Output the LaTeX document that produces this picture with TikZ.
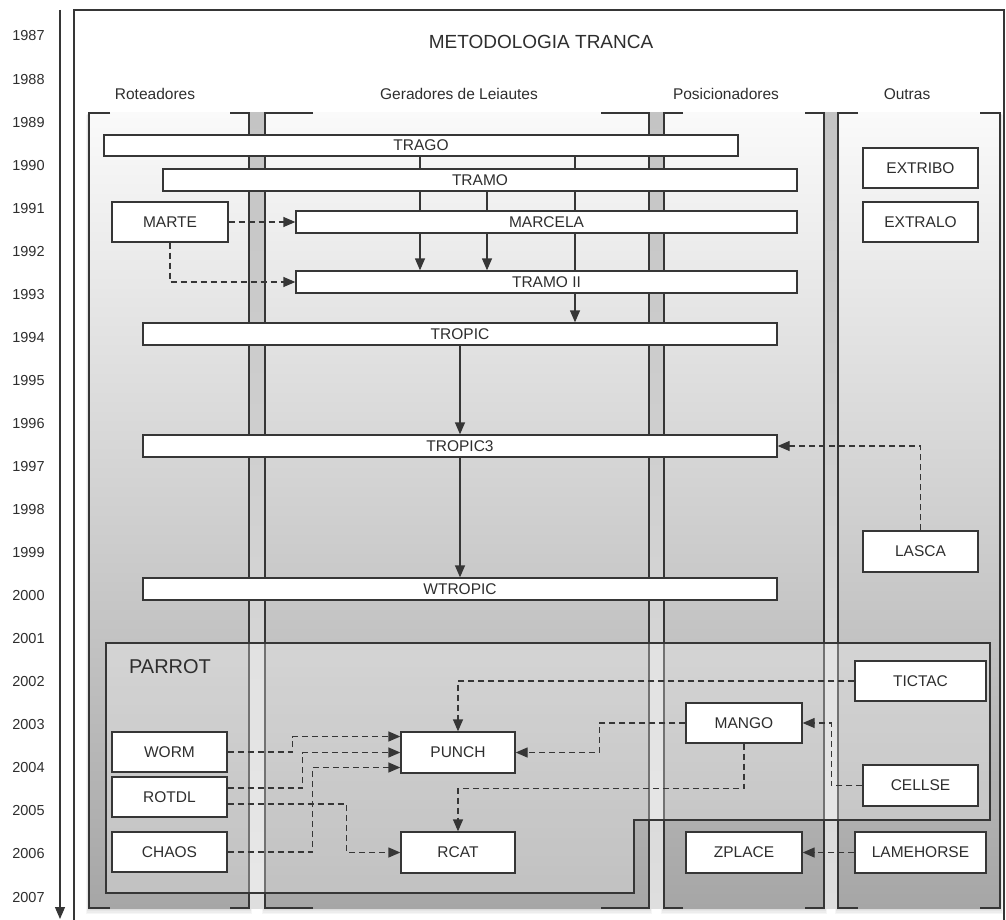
\documentclass[tikz,border=0pt]{standalone}
\usepackage{fontspec}
\setmainfont{Liberation Sans}
\usetikzlibrary{arrows.meta,shadows,calc}
\pgfdeclarelayer{back}
\pgfdeclarelayer{edges}
\pgfsetlayers{back,edges,main}

\definecolor{ink}{HTML}{363636}
\definecolor{textcol}{HTML}{2E2E2E}
\definecolor{paneltop}{HTML}{FAFAFA}
\definecolor{panelbot}{HTML}{A6A6A6}
\definecolor{gaptop}{HTML}{C4C4C4}
\definecolor{gapbot}{HTML}{DEDEDE}

\tikzset{
  box/.style={draw=ink, line width=1.3pt, fill=white, inner sep=0pt,
    font=\fontsize{15.5}{17}\selectfont, text=textcol,
    drop shadow={shadow xshift=0.8pt, shadow yshift=-1.2pt, opacity=0.22}},
  flow/.style={draw=ink, line width=1.3pt, -{Triangle[length=12pt,width=10pt]}},
  dflow/.style={flow, dash pattern=on 6pt off 4pt},
  year/.style={font=\fontsize{14.5}{16}\selectfont, text=textcol},
  head/.style={font=\fontsize{15.5}{17}\selectfont, text=textcol},
  frameline/.style={draw=ink, line width=1.3pt},
}

\begin{document}
\begin{tikzpicture}[x=1pt,y=-1pt]
\useasboundingbox (0,0) rectangle (1006,920);

% time axis
\foreach \yr [count=\i from 0] in {1987,...,2007}
  \node[year] (y\yr) at (28.5, 36+43.05*\i) {\yr};
\coordinate (axistop) at (60,10);
\coordinate (axisbot) at (60,919);
\draw[line width=1.2pt, draw=ink, -{Triangle[length=12pt,width=10pt]}] (axistop) -- (axisbot);

% title and column headings
\node[font=\fontsize{19}{22}\selectfont, text=textcol] (title) at (541,42) {METODOLOGIA TRANCA};
\node[head] (hrot) at (155,94) {Roteadores};
\node[head] (hger) at (459,94) {Geradores de Leiautes};
\node[head] (hpos) at (726,94) {Posicionadores};
\node[head] (hout) at (907,94) {Outras};
\node[font=\fontsize{20}{22}\selectfont, text=textcol] (parrot) at (170,667) {PARROT};

% long bars
\node[box, minimum width=634pt, minimum height=21pt] (trago)   at (421,145.5) {TRAGO};
\node[box, minimum width=634pt, minimum height=22pt] (tramo)   at (480,180)   {TRAMO};
\node[box, minimum width=501pt, minimum height=22pt] (marcela) at (546.5,222) {MARCELA};
\node[box, minimum width=501pt, minimum height=22pt] (tramoii) at (546.5,282) {TRAMO II};
\node[box, minimum width=634pt, minimum height=22pt] (tropic)  at (460,334)   {TROPIC};
\node[box, minimum width=634pt, minimum height=22pt] (tropic3) at (460,446)   {TROPIC3};
\node[box, minimum width=634pt, minimum height=22pt] (wtropic) at (460,589)   {WTROPIC};

% tools
\node[box, minimum width=116pt, minimum height=40pt] (marte)     at (170,222)     {MARTE};
\node[box, minimum width=115pt, minimum height=40pt] (extribo)   at (920.5,168)   {EXTRIBO};
\node[box, minimum width=115pt, minimum height=40pt] (extralo)   at (920.5,222)   {EXTRALO};
\node[box, minimum width=115pt, minimum height=41pt] (lasca)     at (920.5,551.5) {LASCA};
\node[box, minimum width=131pt, minimum height=40pt] (tictac)    at (920.5,681)   {TICTAC};
\node[box, minimum width=116pt, minimum height=40pt] (mango)     at (744,723)     {MANGO};
\node[box, minimum width=115pt, minimum height=41pt] (cellse)    at (920.5,785.5) {CELLSE};
\node[box, minimum width=116pt, minimum height=41pt] (zplace)    at (744,852.5)   {ZPLACE};
\node[box, minimum width=131pt, minimum height=41pt] (lamehorse) at (920.5,852.5) {LAMEHORSE};
\node[box, minimum width=115pt, minimum height=40pt] (worm)      at (169.5,752)   {WORM};
\node[box, minimum width=115pt, minimum height=40pt] (rotdl)     at (169.5,797)   {ROTDL};
\node[box, minimum width=115pt, minimum height=40pt] (chaos)     at (169.5,852)   {CHAOS};
\node[box, minimum width=114pt, minimum height=41pt] (punch)     at (458,752.5)   {PUNCH};
\node[box, minimum width=114pt, minimum height=41pt] (rcat)      at (458,852.5)   {RCAT};

\begin{pgfonlayer}{back}
  % outer frame
  \draw[frameline] (74,925) -- (74,10) -- (1004,10) -- (1004,925);
  % soft halo under the column panels
  \foreach \xa/\xb in {89/249, 265/649, 664/824, 838/1000}
    \foreach \d in {1,...,4}
      \fill[black, opacity=0.035] (\xa-\d*0.8, 113+\d*0.5) rectangle (\xb+\d*0.8, 908+\d*1.6);
  % gaps between panels
  \foreach \xa/\xb in {249/265, 649/664, 824/838}
    \shade[top color=gaptop, bottom color=gapbot] (\xa,113) rectangle (\xb,908);
  % column panels with bracket corners
  \foreach \xa/\xb/\cl/\cr in {89/249/21/19, 265/649/48/48, 664/824/19/19, 838/1000/20/20} {
    \shade[top color=paneltop, bottom color=panelbot] (\xa,113) rectangle (\xb,908);
    \draw[frameline] (\xa+\cl,113) -- (\xa,113) -- (\xa,908) -- (\xa+\cl,908);
    \draw[frameline] (\xb-\cr,113) -- (\xb,113) -- (\xb,908) -- (\xb-\cr,908);
  }
  % PARROT region
  \draw[frameline, fill=white, fill opacity=0.3]
    (106,643) -- (990,643) -- (990,820) -- (634,820) -- (634,893) -- (106,893) -- cycle;
\end{pgfonlayer}

\begin{pgfonlayer}{edges}
  \coordinate (c420) at (420,0);
  \coordinate (c487) at (487,0);
  \coordinate (c575) at (575,0);
  % derivations between the layout generators
  \draw[flow] (trago.south -| c420) -- (tramoii.north -| c420);
  \draw[flow] (tramo.south -| c487) -- (tramoii.north -| c487);
  \draw[flow] (trago.south -| c575) -- (tropic.north -| c575);
  \draw[flow] (tropic) -- (tropic3);
  \draw[flow] (tropic3) -- (wtropic);
  % dashed influences
  \draw[dflow] (marte.east) -- (marcela.west |- marte.east);
  \draw[dflow] (marte.south) |- (tramoii.west);
  \draw[dflow] (lasca.north) |- (tropic3.east);
  \draw[dflow] (tictac.west) -| (punch.north);
  \draw[dflow] (mango.west) -- ++(-86,0) |- (punch.east);
  \draw[dflow] (mango.south) -- ++(0,45) -| (rcat.north);
  \draw[dflow] (cellse.west) -- ++(-31,0) |- (mango.east);
  \draw[dflow] (lamehorse.west) -- (zplace.east);
  \draw[dflow] (worm.east) -- ++(65,0) |- ($(punch.west)+(0,-16)$);
  \draw[dflow] ($(rotdl.east)+(0,-9)$) -- ++(75,0) |- (punch.west);
  \draw[dflow] (chaos.east) -- ++(85,0) |- ($(punch.west)+(0,15)$);
  \draw[dflow] ($(rotdl.east)+(0,7)$) -- ++(119,0) |- (rcat.west);
\end{pgfonlayer}
\end{tikzpicture}
\end{document}
